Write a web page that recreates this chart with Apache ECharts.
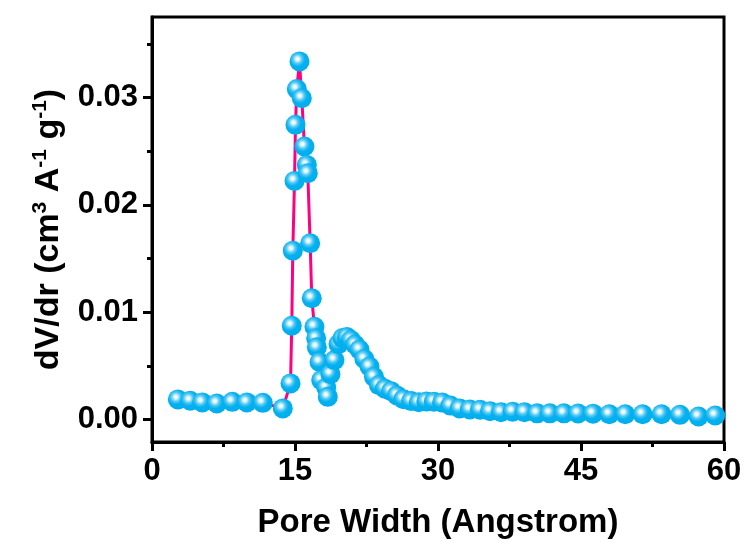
<!DOCTYPE html>
<html>
<head>
<meta charset="utf-8">
<script src="https://cdn.jsdelivr.net/npm/echarts@6/dist/echarts.min.js"></script>
<style>
  html, body { margin: 0; padding: 0; background: #fff; }
  #chart { width: 749px; height: 545px; }
</style>
</head>
<body>
<div id="chart"></div>
<script>
// Pore size distribution: pore width (Å) vs dV/dr
const poreWidth = [
  2.71, 4.01, 5.27, 6.80, 8.42, 9.95, 11.62, 13.72,
  14.53, 14.66, 14.77, 14.95, 15.05, 15.19, 15.47,
  15.71, 15.99, 16.24, 16.34, 16.59, 16.76, 17.04, 17.22, 17.29, 17.57, 17.75, 18.27, 18.44,
  18.72, 19.14, 19.56, 19.98, 20.45, 20.87, 21.29, 21.76, 22.28, 22.81, 23.28, 23.80,
  24.43, 25.08, 25.69, 26.37, 27.18, 27.98, 28.78, 29.57, 30.43, 31.30, 32.27, 33.34,
  34.41, 35.46, 36.61, 37.83, 39.06, 40.40, 41.73, 43.20, 44.69, 46.26, 47.97, 49.64,
  51.46, 53.45, 55.38, 57.33, 59.08
];
const dVdr = [
  0.00187, 0.00174, 0.00159, 0.00149, 0.00164, 0.00159, 0.00155, 0.00103,
  0.00336, 0.00873, 0.01573, 0.02223, 0.02745, 0.03078, 0.03336,
  0.02994, 0.02543, 0.02372, 0.02295, 0.01642, 0.01129, 0.00864, 0.00756, 0.00672, 0.00535, 0.00367, 0.00297, 0.00211,
  0.00423, 0.00553, 0.00702, 0.00758, 0.00768, 0.00740, 0.00698, 0.00651, 0.00563, 0.00493, 0.00397, 0.00320,
  0.00287, 0.00264, 0.00224, 0.00189, 0.00171, 0.00160, 0.00168, 0.00166, 0.00159, 0.00129, 0.00103, 0.00093,
  0.00090, 0.00077, 0.00068, 0.00073, 0.00068, 0.00057, 0.00057, 0.00057, 0.00056, 0.00054, 0.00049, 0.00049,
  0.00049, 0.00049, 0.00043, 0.00028, 0.00037
];

// y-axis tick positions
const yMajorTicks = [0, 0.01, 0.02, 0.03];
const yMinorTicks = [0.005, 0.015, 0.025, 0.035];
const xTickStep = 15;

const font = '"Liberation Sans", Arial, sans-serif';
const points = poreWidth.map((w, i) => [w, dVdr[i]]);

const sphere = {
  type: 'radial', x: 0.4, y: 0.38, r: 0.6,
  colorStops: [
    { offset: 0, color: '#ffffff' },
    { offset: 0.14, color: '#e4f7fe' },
    { offset: 0.38, color: '#52c9f4' },
    { offset: 0.62, color: '#06b0ee' },
    { offset: 1, color: '#00aeef' }
  ]
};

const chart = echarts.init(document.getElementById('chart'), null, { renderer: 'canvas' });
chart.setOption({
  animation: false,
  backgroundColor: '#fff',
  grid: {
    left: 152, right: 25, top: 17, bottom: 103,
    show: true, borderColor: '#000', borderWidth: 3, containLabel: false
  },
  xAxis: {
    type: 'value', min: 0, max: 60, interval: xTickStep,
    name: 'Pore Width (Angstrom)', nameLocation: 'middle', nameGap: 64,
    nameTextStyle: { fontFamily: font, fontWeight: 'bold', fontSize: 33, color: '#000' },
    axisLine: { show: true, onZero: false, lineStyle: { color: '#000', width: 3 } },
    axisTick: { show: true, length: 9, lineStyle: { color: '#000', width: 3 } },
    minorTick: { show: true, splitNumber: 2, length: 5, lineStyle: { color: '#000', width: 3 } },
    axisLabel: { margin: 14, fontFamily: font, fontWeight: 'bold', fontSize: 31, color: '#000' },
    splitLine: { show: false }
  },
  yAxis: [{
    type: 'value', min: -0.0021, max: 0.0375,
    name: '{t|dV/dr (cm}{s|3}{t| A}{s|-1}{t| g}{s|-1}{t|)}',
    nameLocation: 'middle', nameRotate: 90, nameGap: 84,
    nameTextStyle: {
      color: '#000',
      rich: {
        t: { fontFamily: font, fontWeight: 'bold', fontSize: 34, color: '#000', lineHeight: 38 },
        s: { fontFamily: font, fontWeight: 'bold', fontSize: 21, color: '#000', verticalAlign: 'top', lineHeight: 22 }
      }
    },
    axisLine: { show: true, onZero: false, lineStyle: { color: '#000', width: 3 } },
    axisTick: { show: true, length: 9, customValues: yMajorTicks, lineStyle: { color: '#000', width: 3 } },
    axisLabel: {
      margin: 14, customValues: yMajorTicks,
      fontFamily: font, fontWeight: 'bold', fontSize: 31, color: '#000',
      formatter: v => v.toFixed(2)
    },
    splitLine: { show: false }
  }, {
    type: 'value', min: -0.0021, max: 0.0375, position: 'left',
    axisLine: { show: false },
    axisTick: { show: true, length: 5, customValues: yMinorTicks, lineStyle: { color: '#000', width: 3 } },
    axisLabel: { show: false },
    splitLine: { show: false }
  }],
  series: [{
    type: 'line',
    data: points,
    yAxisIndex: 0,
    symbol: 'circle',
    symbolSize: 20,
    lineStyle: { color: '#ff0080', width: 3 },
    itemStyle: { color: sphere, borderWidth: 0 }
  }]
});
</script>
</body>
</html>
